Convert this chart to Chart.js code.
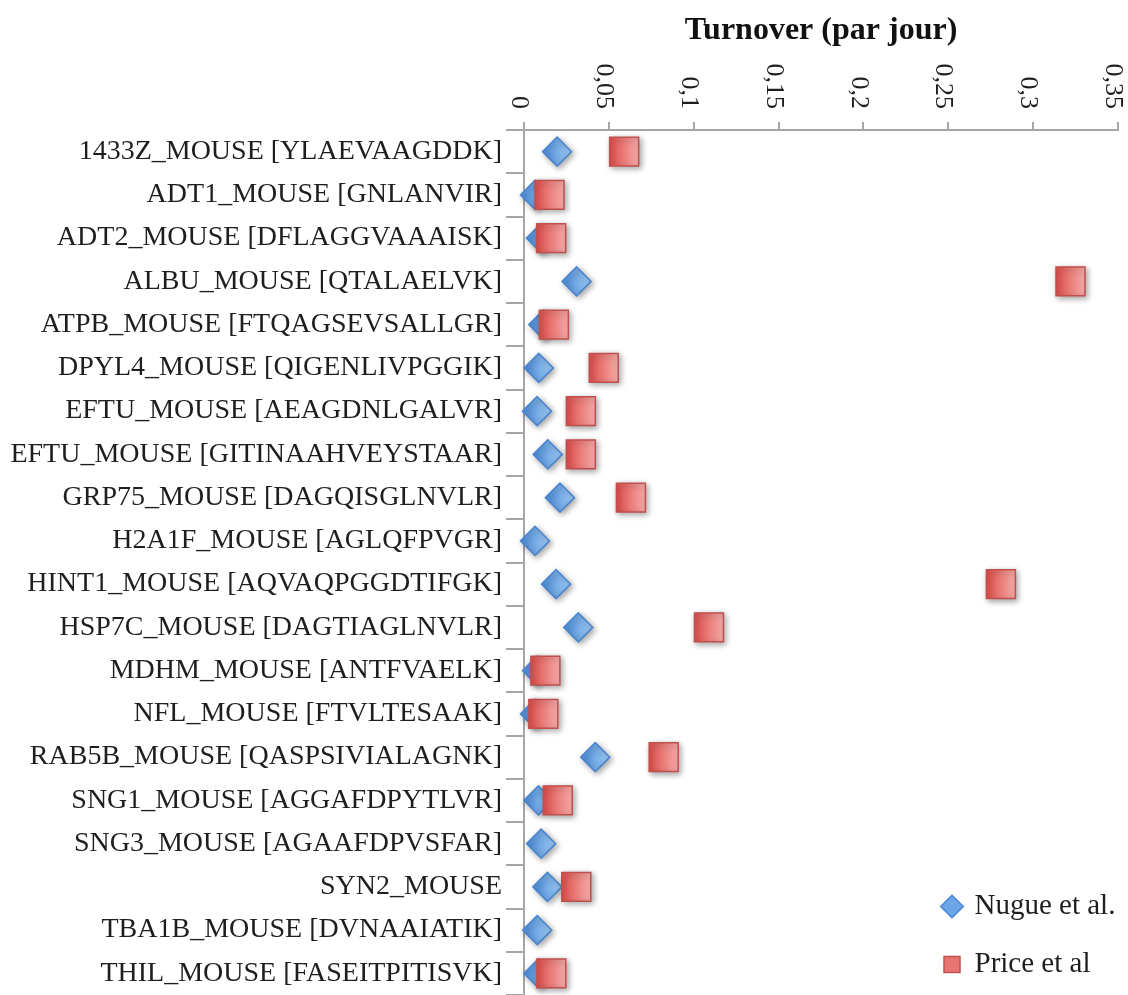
<!DOCTYPE html>
<html>
<head>
<meta charset="utf-8">
<script src="https://cdn.jsdelivr.net/npm/chart.js@4/dist/chart.umd.min.js"></script>
<style>
  html, body { margin: 0; padding: 0; background: #fff; }
  #wrap { width: 1128px; height: 995px; position: relative; }
</style>
</head>
<body>
<div id="wrap"><canvas id="turnoverChart"></canvas></div>
<script>
const proteins = [
    "1433Z_MOUSE [YLAEVAAGDDK]",
    "ADT1_MOUSE [GNLANVIR]",
    "ADT2_MOUSE [DFLAGGVAAAISK]",
    "ALBU_MOUSE [QTALAELVK]",
    "ATPB_MOUSE [FTQAGSEVSALLGR]",
    "DPYL4_MOUSE [QIGENLIVPGGIK]",
    "EFTU_MOUSE [AEAGDNLGALVR]",
    "EFTU_MOUSE [GITINAAHVEYSTAAR]",
    "GRP75_MOUSE [DAGQISGLNVLR]",
    "H2A1F_MOUSE [AGLQFPVGR]",
    "HINT1_MOUSE [AQVAQPGGDTIFGK]",
    "HSP7C_MOUSE [DAGTIAGLNVLR]",
    "MDHM_MOUSE [ANTFVAELK]",
    "NFL_MOUSE [FTVLTESAAK]",
    "RAB5B_MOUSE [QASPSIVIALAGNK]",
    "SNG1_MOUSE [AGGAFDPYTLVR]",
    "SNG3_MOUSE [AGAAFDPVSFAR]",
    "SYN2_MOUSE",
    "TBA1B_MOUSE [DVNAAIATIK]",
    "THIL_MOUSE [FASEITPITISVK]"
];

const nugue = [0.0195, 0.0065, 0.010, 0.031, 0.0114, 0.0087, 0.0077, 0.014, 0.0212, 0.0065,
               0.0189, 0.032, 0.0077, 0.0065, 0.042, 0.0085, 0.0101, 0.0138, 0.0078, 0.0085];
const price = [0.059, 0.015, 0.016, 0.322, 0.0176, 0.047, 0.0335, 0.0335, 0.063, null,
               0.281, 0.109, 0.0126, 0.0114, 0.0823, 0.0199, null, 0.0308, null, 0.0161];

const xTicks = [0, 0.05, 0.1, 0.15, 0.2, 0.25, 0.3, 0.35];

const serif = "'Liberation Serif', 'Times New Roman', serif";
const axisGrey = '#a6a6a6';

function gradFill(from, to, half, solid) {
    return (c) => {
        if (c.type !== 'data' || !c.parsed || c.parsed.x == null) return solid;
        const x = c.chart.scales.x.getPixelForValue(c.parsed.x);
        if (!isFinite(x)) return solid;
        const g = c.chart.ctx.createLinearGradient(x - half, 0, x + half, 0);
        g.addColorStop(0, from);
        g.addColorStop(1, to);
        return g;
    };
}

// rotated tick labels (read top to bottom) above the top axis
const rotatedTicks = {
    id: 'rotatedTicks',
    afterDraw(chart) {
        const sc = chart.scales.x;
        const c = chart.ctx;
        c.save();
        c.font = "26px " + serif;
        c.fillStyle = '#1e1e1e';
        c.textAlign = 'right';
        c.textBaseline = 'middle';
        xTicks.forEach(v => {
            const px = sc.getPixelForValue(v);
            c.save();
            c.translate(px - 5, 109);
            c.rotate(Math.PI / 2);
            c.fillText(String(v).replace('.', ','), 0, 0);
            c.restore();
        });
        c.restore();
    }
};

const pointShadow = {
    id: 'pointShadow',
    beforeDatasetsDraw(chart) {
        const c = chart.ctx;
        c.save();
        c.shadowColor = 'rgba(0,0,0,0.35)';
        c.shadowBlur = 6;
        c.shadowOffsetX = 2;
        c.shadowOffsetY = 2;
    },
    afterDatasetsDraw(chart) {
        chart.ctx.restore();
    }
};

// put the legend in the lower right corner, over the plot
const legendCorner = {
    id: 'legendCorner',
    afterLayout(chart) {
        const lg = chart.legend;
        if (!lg) return;
        const w = lg.width, h = lg.height;
        lg.left = 915;
        lg.top = 863;
        lg.right = lg.left + w;
        lg.bottom = lg.top + h;
    }
};

const ctx = document.getElementById('turnoverChart').getContext('2d');

const chart = new Chart(ctx, {
    type: 'line',
    data: {
        labels: proteins,
        datasets: [
            {
                label: 'Nugue et al.',
                data: nugue,
                showLine: false,
                pointStyle: 'rectRot',
                pointRadius: 14.5,
                pointHoverRadius: 14.5,
                pointBorderWidth: 1.5,
                pointBorderColor: '#4a85cf',
                pointBackgroundColor: gradFill('#4f8fdc', '#9cc8f2', 14, '#6aa6e8'),
                borderColor: '#4a85cf',
                backgroundColor: '#6aa6e8',
                clip: false,
                order: 1
            },
            {
                label: 'Price et al',
                data: price,
                showLine: false,
                pointStyle: 'rect',
                pointRadius: 20.5,
                pointHoverRadius: 20.5,
                pointBorderWidth: 1.5,
                pointBorderColor: '#c0504d',
                pointBackgroundColor: gradFill('#e0504c', '#f4aaa8', 14, '#ea7471'),
                borderColor: '#c0504d',
                backgroundColor: '#ea7471',
                clip: false,
                order: 0
            }
        ]
    },
    options: {
        indexAxis: 'y',
        responsive: true,
        maintainAspectRatio: false,
        animation: false,
        layout: { autoPadding: false, padding: { top: 0, right: 10, bottom: 0, left: 0 } },
        scales: {
            x: {
                type: 'linear',
                position: 'top',
                min: 0,
                max: 0.35,
                afterBuildTicks: (s) => { s.ticks = xTicks.map(v => ({ value: v })); },
                afterFit: (s) => { s.height = 130; },
                ticks: { display: false },
                grid: { drawOnChartArea: false, tickLength: 8, color: axisGrey, lineWidth: 2 },
                border: { color: axisGrey, width: 2 },
                title: {
                    display: true,
                    text: 'Turnover (par jour)',
                    color: '#111',
                    font: { family: serif, size: 32, weight: 'bold' },
                    padding: { top: 12, bottom: 0 }
                }
            },
            y: {
                type: 'category',
                offset: true,
                afterFit: (s) => { s.width = 524; s.paddingTop = 0; s.paddingBottom = 0; },
                ticks: {
                    color: '#1e1e1e',
                    font: { family: serif, size: 28 },
                    padding: 4,
                    autoSkip: false
                },
                grid: { offset: true, drawOnChartArea: false, tickLength: 18, color: axisGrey, lineWidth: 2 },
                border: { color: axisGrey, width: 2 }
            }
        },
        plugins: {
            tooltip: { enabled: false },
            legend: {
                position: 'chartArea',
                align: 'start',
                labels: {
                    usePointStyle: true,
                    boxHeight: 16,
                    boxWidth: 16,
                    padding: 29,
                    color: '#1e1e1e',
                    font: { family: serif, size: 29 },
                    sort: (a, b) => a.datasetIndex - b.datasetIndex,
                    generateLabels: (ch) => {
                        const solid = ['#6aa6e8', '#ea7471'];
                        return Chart.defaults.plugins.legend.labels.generateLabels(ch).map(l => {
                            l.fillStyle = solid[l.datasetIndex];
                            return l;
                        });
                    }
                }
            }
        }
    },
    plugins: [rotatedTicks, pointShadow, legendCorner]
});
</script>
</body>
</html>
